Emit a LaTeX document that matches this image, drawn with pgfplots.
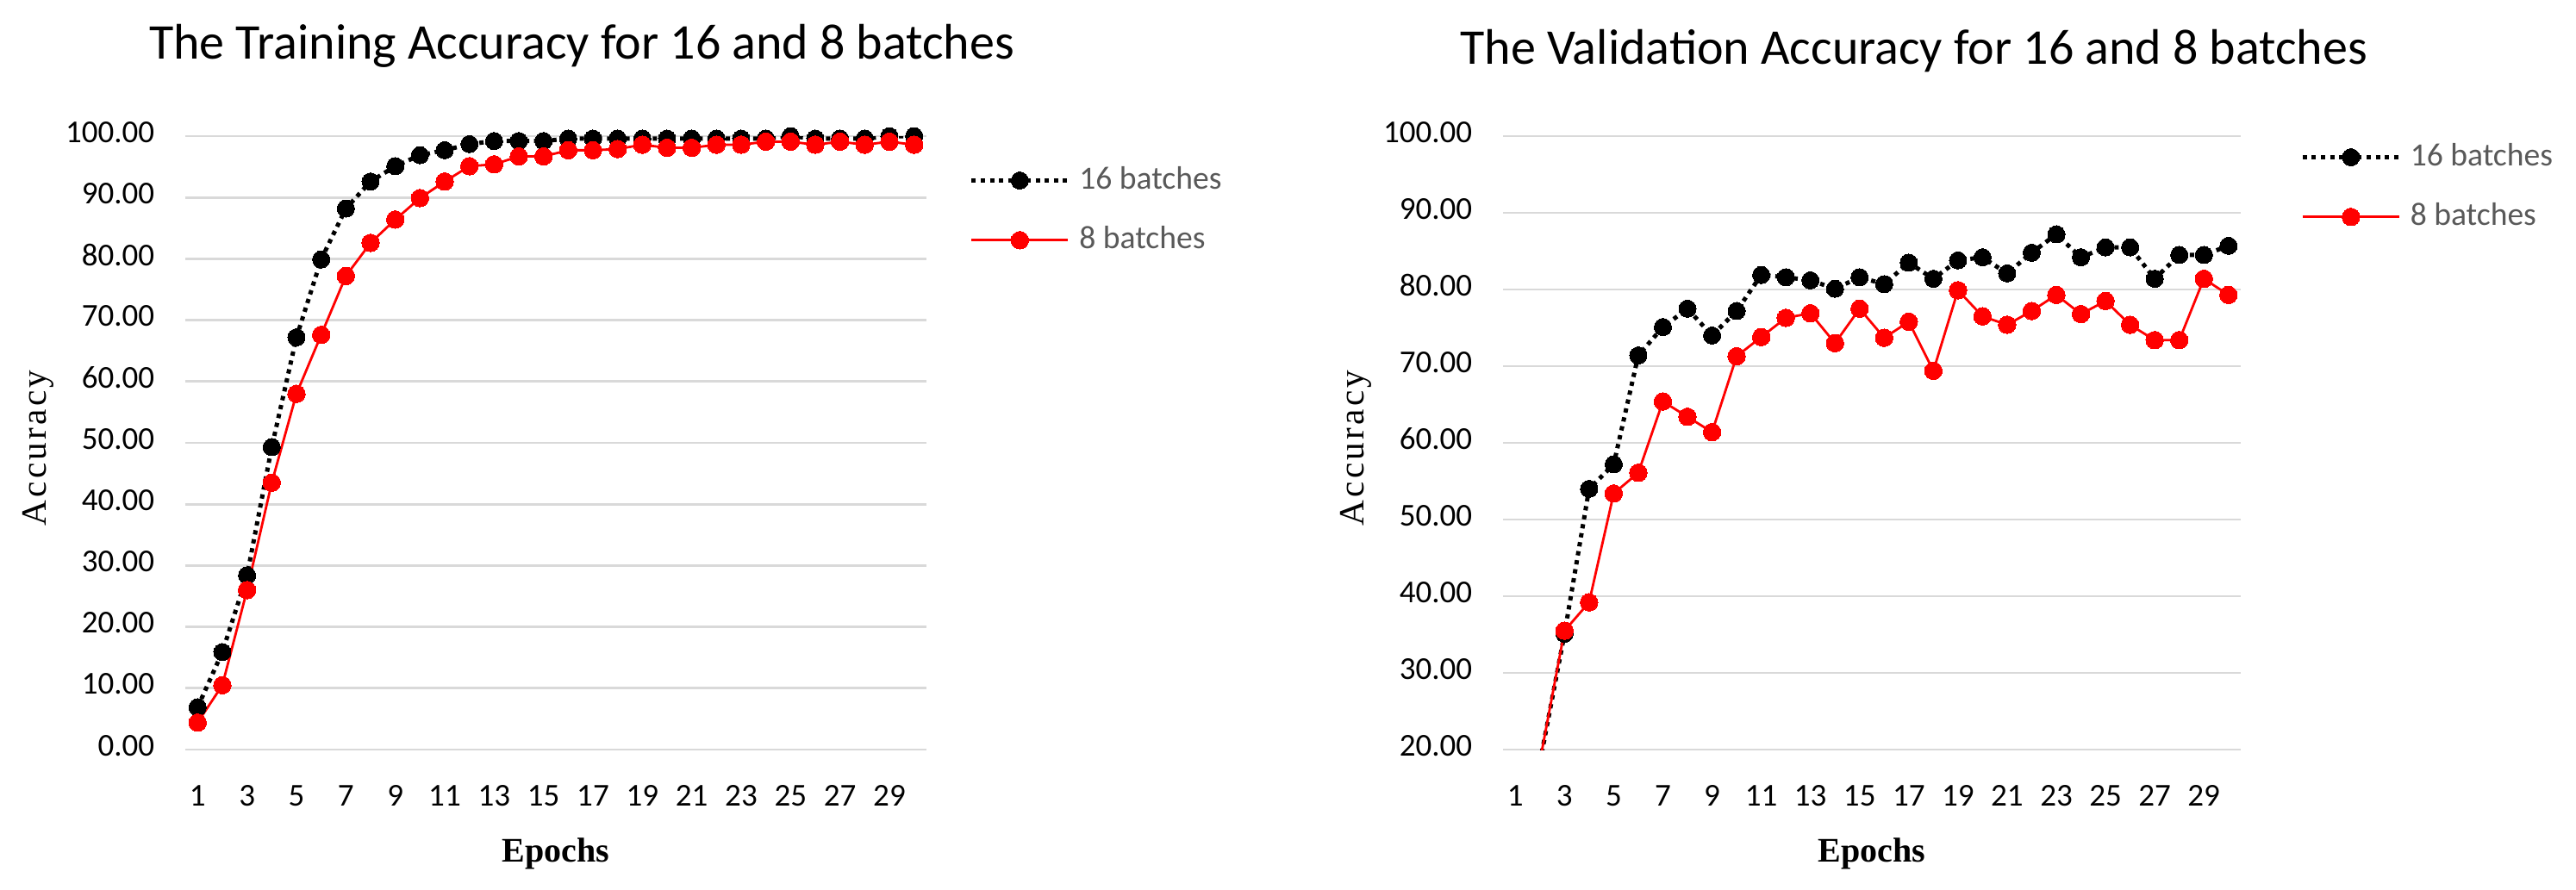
\documentclass[border=0pt]{standalone}
\usepackage{fontspec}
\setmainfont{Carlito}
\newfontfamily\serifx{Liberation Serif}
\newfontfamily\serifsp[LetterSpace=8]{Liberation Serif}
\usepackage{pgfplots}
\usepackage{pgfplotstable}
\pgfplotsset{compat=1.18}
\definecolor{gridgray}{HTML}{D9D9D9}
\definecolor{legendgray}{HTML}{595959}

\pgfplotstableread{
ep  b16   b8
1   6.9   4.4
2   15.9  10.5
3   28.4  26.0
4   49.3  43.5
5   67.2  58.0
6   79.9  67.6
7   88.2  77.2
8   92.6  82.6
9   95.1  86.4
10  96.9  89.9
11  97.7  92.6
12  98.7  95.1
13  99.2  95.4
14  99.2  96.7
15  99.2  96.7
16  99.6  97.7
17  99.6  97.7
18  99.6  97.9
19  99.6  98.6
20  99.6  98.1
21  99.6  98.1
22  99.6  98.6
23  99.6  98.6
24  99.6  99.1
25  100.0 99.1
26  99.6  98.6
27  99.6  99.1
28  99.6  98.6
29  100.0 99.1
30  100.0 98.6
}\train

\pgfplotstableread{
ep  b16   b8
1   12.0  11.5
2   18.3  18.5
3   35.1  35.5
4   54.0  39.2
5   57.2  53.4
6   71.4  56.1
7   75.1  65.4
8   77.5  63.4
9   74.0  61.4
10  77.2  71.3
11  81.9  73.8
12  81.6  76.3
13  81.2  76.9
14  80.1  73.0
15  81.6  77.5
16  80.7  73.7
17  83.5  75.8
18  81.4  69.4
19  83.8  79.9
20  84.2  76.5
21  82.1  75.4
22  84.8  77.2
23  87.2  79.3
24  84.2  76.8
25  85.5  78.5
26  85.5  75.4
27  81.4  73.4
28  84.5  73.4
29  84.5  81.4
30  85.7  79.3
}\valid

\pgfplotsset{
  accstyle/.style={
    scale only axis, height=178pt,
    xmin=0.5, xmax=30.5,
    xtick={1,3,...,29},
    xticklabels={1,3,5,7,9,11,13,15,17,19,21,23,25,27,29},
    axis line style={draw=none},
    major tick length=0pt,
    ymajorgrids, grid style={gridgray, line width=0.7pt},
    tick label style={font=\fontsize{9.25}{11}\selectfont, text=black},
    yticklabel={\pgfmathprintnumber[fixed,fixed zerofill,precision=2,assume math mode=true]{\tick}},
    yticklabel style={anchor=east, inner sep=0pt, xshift=-8.75pt, yshift=1.2pt},
    xticklabel style={anchor=base, inner sep=0pt, yshift=-16.25pt},
    xlabel={Epochs}, ylabel={Accuracy},
    xlabel style={font=\serifx\bfseries\fontsize{10}{12}\selectfont, at={(axis description cs:0.5,-0.1826)}, anchor=base, inner sep=0pt},
    ylabel style={font=\serifsp\fontsize{10.3}{12}\selectfont, at={(axis description cs:-0.199,0.4916)}, anchor=center, inner sep=0pt},
    legend cell align=left,
    legend image code/.code={\draw[mark repeat=2,mark phase=2,##1] plot coordinates {(0pt,0pt) (14pt,0pt) (28pt,0pt)};},
    legend style={draw=none, fill=none, inner sep=0pt, outer sep=0pt,
      font=\fontsize{9.4}{11}\selectfont, text=legendgray,
      row sep=9.3pt,
      nodes={inner sep=0pt},
      /tikz/every odd column/.append style={column sep=2.6pt}},
  },
  s16/.style={black, line width=1.25pt, dash pattern=on 1.25pt off 1.4pt, mark=*, mark size=2.5pt, mark options={solid, fill=black, draw=black, line width=0pt}},
  s8/.style={red, line width=0.7pt, mark=*, mark size=2.55pt, mark options={solid, fill=red, draw=red, line width=0pt}},
}

\begin{document}
\begin{tikzpicture}
\path[use as bounding box] (0,0) rectangle (747.25pt,258pt);

\begin{axis}[accstyle,
  at={(53.75pt,40.5pt)}, anchor=south west, width=215pt,
  ymin=0, ymax=100, ytick={0,10,...,100},
  title={The Training Accuracy for 16 and 8 batches},
  title style={font=\fontsize{14.5}{17}\selectfont, at={(axis description cs:0.535,1.0927)}, anchor=base, inner sep=0pt},
  legend style={at={(axis description cs:1.058,0.879)}, anchor=west},
]
\addplot[s16] table[x=ep, y=b16] {\train};
\addlegendentry{16 batches}
\addplot[s8] table[x=ep, y=b8] {\train};
\addlegendentry{8 batches}
\end{axis}

\begin{axis}[accstyle,
  at={(436pt,40.5pt)}, anchor=south west, width=214pt,
  ymin=20, ymax=100, ytick={20,30,...,100},
  title={The Validation Accuracy for 16 and 8 batches},
  title style={font=\fontsize{14.5}{17}\selectfont, at={(axis description cs:0.557,1.0843)}, anchor=base, inner sep=0pt},
  legend style={at={(axis description cs:1.081,0.917)}, anchor=west},
]
\addplot[s16] table[x=ep, y=b16] {\valid};
\addlegendentry{16 batches}
\addplot[s8] table[x=ep, y=b8] {\valid};
\addlegendentry{8 batches}
\end{axis}
\end{tikzpicture}
\end{document}
